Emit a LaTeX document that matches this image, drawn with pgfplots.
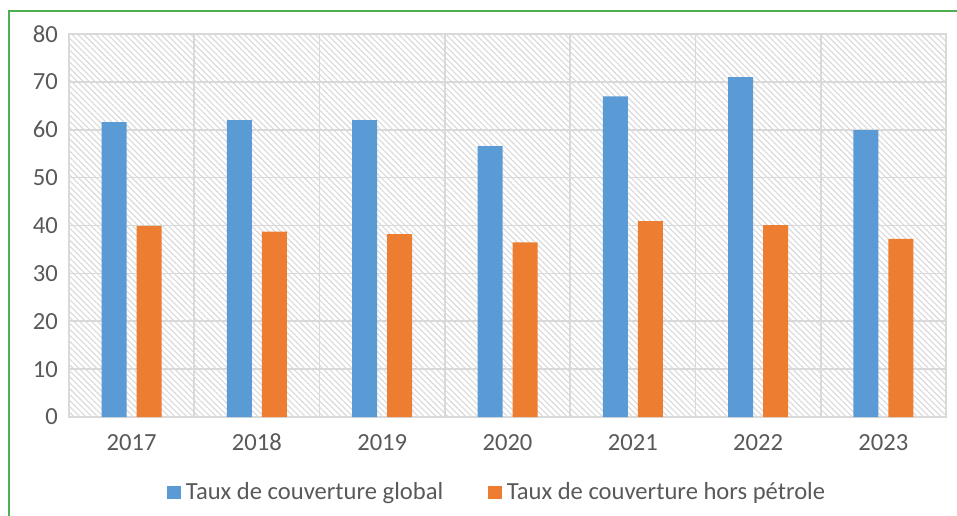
\documentclass[border=0pt]{standalone}
\usepackage{pgfplots}
\pgfplotsset{compat=1.18}
\usepackage{fontspec}
\setmainfont{Carlito}
\usetikzlibrary{patterns.meta}
\definecolor{cblue}{HTML}{5B9BD5}
\definecolor{corange}{HTML}{ED7D31}
\definecolor{gridc}{HTML}{D9D9D9}
\definecolor{txt}{HTML}{595959}
\definecolor{frame}{HTML}{4CAF50}
\definecolor{hatch}{HTML}{D9D9D9}
\begin{document}
\begin{tikzpicture}
\path[use as bounding box, clip] (0,0) rectangle (478.5pt,257.5pt);
\draw[frame, line width=1.1pt] (4.5pt,-10pt) -- (4.5pt,252pt) -- (490pt,252pt);
\begin{axis}[
  at={(34.5pt,49pt)}, anchor=south west,
  scale only axis, width=438.5pt, height=191.5pt,
  xmin=-0.5, xmax=6.5, ymin=0, ymax=80,
  xtick={0,...,6},
  xticklabels={2017,2018,2019,2020,2021,2022,2023},
  minor xtick={-0.5,0.5,...,6.5},
  ytick={0,10,...,80},
  xminorgrids=true, ymajorgrids=true, xmajorgrids=false,
  grid style={gridc, line width=0.8pt},
  minor grid style={gridc, line width=0.8pt},
  axis line style={gridc, line width=0.8pt},
  major tick length=0pt, minor tick length=0pt,
  tick label style={font=\fontsize{12.3}{14}\selectfont, text=txt},
  /pgf/number format/assume math mode=true,
  xticklabel style={yshift=-5pt},
  yticklabel style={xshift=-2pt},
  axis background/.style={pattern={Lines[angle=-45, distance=2.1pt, line width=0.55pt]}, pattern color=hatch},
  ybar, bar width=12.5pt,
  legend columns=2,
  legend style={at={(0.49,-0.196)}, anchor=center, draw=none, fill=none,
    font=\fontsize{12.3}{14}\selectfont, text=txt, inner sep=0pt,
    nodes={inner sep=2.5pt},
    /tikz/every even column/.append style={column sep=20pt}},
  legend image code/.code={\fill[#1] (0pt,-3.25pt) rectangle (6.8pt,3.25pt);},
]
\addplot[fill=cblue, draw=none, bar shift=-8.75pt] coordinates {(0,61.6) (1,62.0) (2,62.0) (3,56.6) (4,67.0) (5,71.0) (6,59.9)};
\addplot[fill=corange, draw=none, bar shift=8.75pt] coordinates {(0,39.9) (1,38.7) (2,38.2) (3,36.5) (4,40.9) (5,40.1) (6,37.2)};
\legend{Taux de couverture global, Taux de couverture hors pétrole}
\end{axis}
\end{tikzpicture}
\end{document}
